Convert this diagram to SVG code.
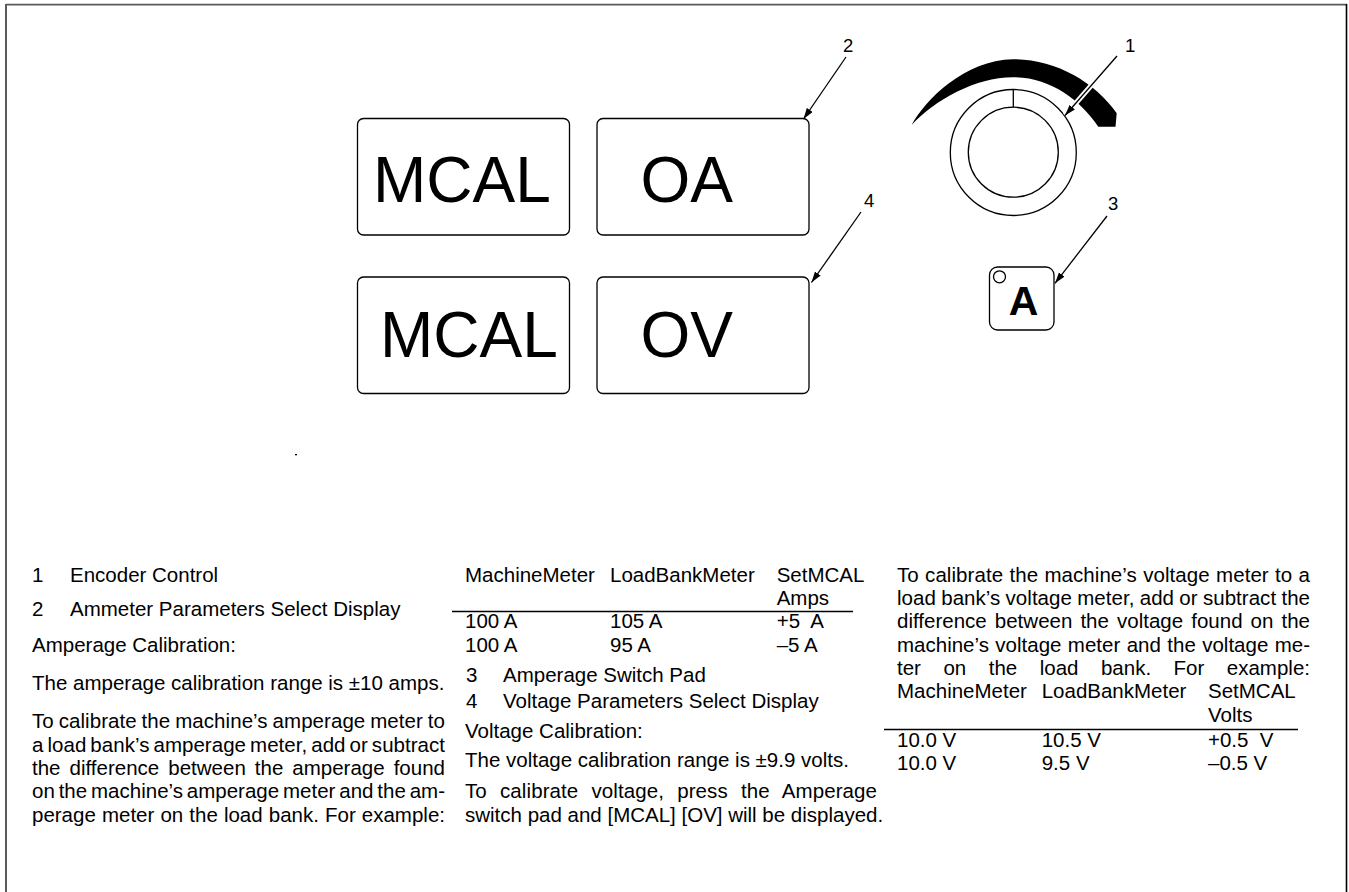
<svg xmlns="http://www.w3.org/2000/svg" width="1349" height="892" viewBox="0 0 1349 892">
<style>
.t{font-family:"Liberation Sans",Arial,sans-serif;font-size:20.5px;fill:#000}
.big{font-family:"Liberation Sans",Arial,sans-serif;font-size:64px;fill:#000}
.num{font-family:"Liberation Sans",Arial,sans-serif;font-size:18.5px;fill:#000}
.box{fill:#fff;stroke:#000;stroke-width:1.3}
.ln{fill:none;stroke:#000;stroke-width:1.3}
.pre{white-space:pre}
</style>
<defs>
<marker id="ah" markerUnits="userSpaceOnUse" markerWidth="12" markerHeight="8" refX="11" refY="3.5" orient="auto">
<path d="M0,0 L11,3.5 L0,7 Z" fill="#000"/>
</marker>
</defs>
<rect width="1349" height="892" fill="#fff"/>
<g id="frame">
<line x1="6" y1="4.6" x2="1347" y2="4.6" stroke="#5a5a5a" stroke-width="1.6"/>
<line x1="6" y1="4" x2="6" y2="892" stroke="#5a5a5a" stroke-width="2"/>
<line x1="1346.5" y1="4" x2="1346.5" y2="892" stroke="#000" stroke-width="1.6"/>
</g>
<g id="mcal-a">
<rect class="box" x="357.5" y="118.5" width="212" height="116.5" rx="6"/>
<text class="big" x="373" y="202">MCAL</text>
</g>
<g id="oa">
<rect class="box" x="597" y="118.5" width="212" height="116.5" rx="6"/>
<text class="big" x="640.5" y="202">OA</text>
</g>
<g id="mcal-v">
<rect class="box" x="357.5" y="277" width="212" height="116.5" rx="6"/>
<text class="big" x="380" y="357.3">MCAL</text>
</g>
<g id="ov">
<rect class="box" x="597" y="277" width="212" height="116.5" rx="6"/>
<text class="big" x="640.5" y="357.3">OV</text>
</g>
<g id="encoder">
<path d="M911.7,125 C925,100 965,60 1013,59.3 C1055,59 1095,82 1116.7,113.3 L1115.5,126.7 L1098.3,126.7 C1080,100 1050,77 1013,77.3 C975,77.5 935,100 911.7,125 Z" fill="#000"/>
<circle class="ln" cx="1013.3" cy="152.5" r="63"/>
<circle class="ln" cx="1013.3" cy="152.2" r="45"/>
<line class="ln" x1="1013.3" y1="89.5" x2="1013.3" y2="107.2"/>
</g>
<g id="switch-pad">
<rect class="box" x="989.5" y="267" width="64.5" height="63" rx="8"/>
<circle class="ln" cx="999.5" cy="276.8" r="6"/>
<text x="1023.5" y="315" text-anchor="middle" style="font-family:'Liberation Sans',Arial,sans-serif;font-size:41px;font-weight:bold">A</text>
</g>
<rect x="295" y="454" width="2" height="1.3" fill="#000"/>
<g id="callouts">
<text class="num" x="843" y="52">2</text>
<text class="num" x="1125" y="52">1</text>
<text class="num" x="864" y="207">4</text>
<text class="num" x="1108" y="210">3</text>
</g>
<g id="connectors">
<line x1="1117" y1="56" x2="1065" y2="115.5" stroke="#fff" stroke-width="5"/>
<line class="ln" x1="1117" y1="56" x2="1065" y2="115.5" marker-end="url(#ah)"/>
<line class="ln" x1="846" y1="57" x2="803.5" y2="119" marker-end="url(#ah)"/>
<line class="ln" x1="861" y1="212" x2="811.5" y2="282.5" marker-end="url(#ah)"/>
<line class="ln" x1="1107" y1="216" x2="1055" y2="283.3" marker-end="url(#ah)"/>
</g>
<g id="text-left">
<text class="t" x="32" y="581.7">1</text>
<text class="t" x="70" y="581.7">Encoder Control</text>
<text class="t" x="32" y="615.5">2</text>
<text class="t" x="70" y="615.5">Ammeter Parameters Select Display</text>
<text class="t" x="32" y="651.7">Amperage Calibration:</text>
<text class="t" x="32" y="690">The amperage calibration range is ±10 amps.</text>
<text class="t" x="32" y="728.3" word-spacing="-0.85" textLength="413" lengthAdjust="spacing">To calibrate the machine’s amperage meter to</text>
<text class="t" x="32" y="751.7" word-spacing="-1.7" textLength="413" lengthAdjust="spacing">a load bank’s amperage meter, add or subtract</text>
<text class="t" x="32" y="775" word-spacing="3.3" textLength="413" lengthAdjust="spacing">the difference between the amperage found</text>
<text class="t" x="32" y="798.3" word-spacing="-1.87" textLength="413" lengthAdjust="spacing">on the machine’s amperage meter and the am-</text>
<text class="t" x="32" y="821.7" word-spacing="0.4" textLength="413" lengthAdjust="spacing">perage meter on the load bank. For example:</text>
</g>
<g id="text-middle">
<text class="t" x="465" y="581.7">MachineMeter</text>
<text class="t" x="610" y="581.7">LoadBankMeter</text>
<text class="t" x="776.7" y="581.7">SetMCAL</text>
<text class="t" x="776.7" y="605">Amps</text>
<line class="ln" x1="452" y1="611.5" x2="853" y2="611.5"/>
<text class="t" x="465" y="628.3">100 A</text>
<text class="t" x="610" y="628.3">105 A</text>
<text class="t pre" x="776.7" y="628.3">+5  A</text>
<text class="t" x="465" y="651.7">100 A</text>
<text class="t" x="610" y="651.7">95 A</text>
<text class="t" x="776.7" y="651.7">–5 A</text>
<text class="t" x="466" y="681.7">3</text>
<text class="t" x="503" y="681.7">Amperage Switch Pad</text>
<text class="t" x="466" y="708.3">4</text>
<text class="t" x="503" y="708.3">Voltage Parameters Select Display</text>
<text class="t" x="465" y="738.3">Voltage Calibration:</text>
<text class="t" x="465" y="766.7">The voltage calibration range is ±9.9 volts.</text>
<text class="t" x="465" y="798.3" word-spacing="7.4" textLength="412" lengthAdjust="spacing">To calibrate voltage, press the Amperage</text>
<text class="t" x="465" y="821.7">switch pad and [MCAL] [OV] will be displayed.</text>
</g>
<g id="text-right">
<text class="t" x="897" y="581.7" word-spacing="0.57" textLength="413" lengthAdjust="spacing">To calibrate the machine’s voltage meter to a</text>
<text class="t" x="897" y="605" word-spacing="-0.4" textLength="413" lengthAdjust="spacing">load bank’s voltage meter, add or subtract the</text>
<text class="t" x="897" y="628.3" word-spacing="2.35" textLength="413" lengthAdjust="spacing">difference between the voltage found on the</text>
<text class="t" x="897" y="651.7" word-spacing="0.67" textLength="413" lengthAdjust="spacing">machine’s voltage meter and the voltage me-</text>
<text class="t" x="897" y="675" word-spacing="16.8" textLength="413" lengthAdjust="spacing">ter on the load bank. For example:</text>
<text class="t" x="897" y="698.3">MachineMeter</text>
<text class="t" x="1041.7" y="698.3">LoadBankMeter</text>
<text class="t" x="1208" y="698.3">SetMCAL</text>
<text class="t" x="1208" y="721.7">Volts</text>
<line class="ln" x1="884" y1="729.5" x2="1298" y2="729.5"/>
<text class="t" x="897" y="746.7">10.0 V</text>
<text class="t" x="1041.7" y="746.7">10.5 V</text>
<text class="t pre" x="1208" y="746.7">+0.5  V</text>
<text class="t" x="897" y="770">10.0 V</text>
<text class="t" x="1041.7" y="770">9.5 V</text>
<text class="t" x="1208" y="770">–0.5 V</text>
</g>
</svg>
